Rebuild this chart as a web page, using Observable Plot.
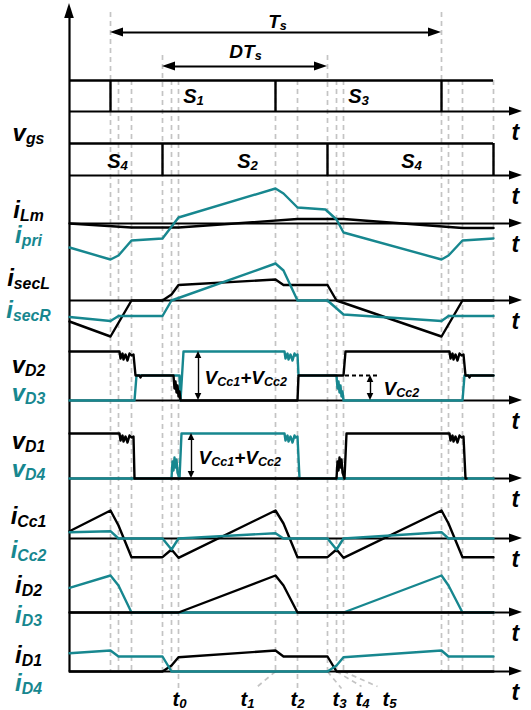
<!DOCTYPE html>
<html><head><meta charset="utf-8">
<script src="https://cdn.jsdelivr.net/npm/d3@7"></script>
<script src="https://cdn.jsdelivr.net/npm/@observablehq/plot@0.6"></script>
<style>body{margin:0;background:#fff;}</style>
</head><body><div id="chart"></div>
<script>
// ---------------- DATA (time in arbitrary units, origin at the vertical axis) ----------------
const instants = [41, 49, 62, 93, 102, 109, 206, 228, 258, 267, 274, 372, 379, 393, 424];
const s13Edges = [41, 206, 372];       // S1 on, S3 on, S1 on
const s24Edges = [93, 258, 424];       // S2 on, S4 on, end
const periodSpan = [41, 372];          // Ts
const dutySpan = [93, 258];            // DTs
const tEnd = 424;

// waveform samples: [time, amplitude]
const iLm   = [[0,0],[62,-4],[109,-4],[228,4.5],[274,4.5],[393,-4.5],[424,-4.5]];
const iPri  = [[0,-24],[41,-36],[49,-32],[62,-17],[93,-15],[109,6],[206,35],[214,30],[228,16],[256,14],[267,4],[274,-9],[372,-36],[379,-32],[393,-17],[424,-15]];
const iSecL = [[0,-21],[41,-36],[62,0],[93,0],[102,6],[109,15.5],[206,21],[214,15.5],[258,15.5],[267,0],[372,-36],[393,0],[424,0]];
const iSecR = [[0,-16.5],[41,-20.5],[49,-15.5],[93,-15.5],[102,0],[206,37],[214,30],[228,0],[258,0],[274,-14],[372,-20.5],[379,-15.5],[424,-15.5]];
const vD2 = [[0,49],[50,49],[51,42],[53,47],[54,41],[56,46],[58,40],[60,47],[62,45],[64,46],[66,25],[70,25],[71,23],[72,25],[104,25],[105,12],[106,19],[107,8],[108,15],[109,4],[110,9],[111,0],[228,0],[229,25],[274,25],[276,49],[380,49],[381,42],[383,47],[384,41],[386,46],[388,40],[390,47],[392,45],[394,46],[396,25],[399,25],[400,23],[401,25],[424,25]];
const vD3 = [[0,0],[65,0],[67,25],[110,25],[111,0],[114,49],[215,49],[216,42],[218,47],[219,41],[221,46],[223,40],[225,47],[226,45],[228,46],[229,25],[267,25],[268,12],[269,19],[270,8],[271,15],[272,4],[273,9],[274,0],[393,0],[395,25],[424,25]];
const vD1 = [[0,45],[50,45],[51,38],[53,43],[54,37],[56,42],[58,36],[60,43],[62,41],[64,42],[65,0],[267,0],[268,17],[269,8],[270,21],[271,11],[272,19],[273,6],[275,0],[277,45],[380,45],[381,38],[383,43],[384,37],[386,42],[388,36],[390,43],[392,41],[394,42],[396,0],[397,0]];
const vD4 = [[0,0],[102,0],[103,17],[104,8],[105,21],[106,11],[107,19],[108,6],[110,0],[112,45],[215,45],[216,38],[218,43],[219,37],[221,42],[223,36],[225,43],[226,41],[228,42],[230,0],[424,0]];
const iCc1 = [[0,7.3],[41,28],[49,13],[62,-18.7],[93,-18.7],[102,-11],[109,-19.3],[206,28],[214,15],[228,-18.7],[258,-18.7],[267,-11],[274,-19.3],[372,28],[379,15],[393,-18.7],[424,-18.7]];
const iCc2 = [[0,6.3],[41,7.3],[49,0],[93,0],[102,-11],[109,0],[206,5.3],[214,0],[258,0],[267,-11],[274,0],[372,6.3],[379,0],[424,0]];
const iD2 = [[0,0],[109,0],[206,37],[214,27],[228,0],[424,0]];
const iD3 = [[0,24.7],[41,37],[49,27],[62,0],[274,0],[372,37],[379,27],[393,0],[424,0]];
const iD1 = [[0,0],[93,0],[102,6],[109,14.3],[206,21],[214,15],[258,15],[267,0],[424,0]];
const iD4 = [[0,18.3],[41,21],[49,15],[93,15],[102,0],[258,0],[267,6],[274,14.3],[372,21],[379,15],[424,15]];

// texts
const leftLabels = ["v{gs}","i{Lm}","i{pri}","i{secL}","i{secR}","v{D2}","v{D3}","v{D1}","v{D4}","i{Cc1}","i{Cc2}","i{D2}","i{D3}","i{D1}","i{D4}"];
const gateRow1Labels = ["S{1}","S{3}"];
const gateRow2Labels = ["S{4}","S{2}","S{4}"];
const instantLabels = ["t{0}","t{1}","t{2}","t{3}","t{4}","t{5}"];
const annotationLabels = ["V{Cc1}+V{Cc2}","V{Cc1}+V{Cc2}","V{Cc2}"];

// ---------------- LAYOUT / STYLE ----------------
const TEAL = "#17878f";
const FONT = "'Liberation Sans', Arial, sans-serif";
const rows = [111,175,223,300,400,478,538,612,671];
const R = {g1:111,g2:175,lm:223,sec:300,v23:400,v14:478,cc:538,d23:612,d14:671};
const axisTip = 453;
const leftBase = [140,217,242,285,317,372,400,448,476,523,557,592,622,662,690];
const leftColor = [0,0,1,0,1,0,1,0,1,0,1,0,1,0,1].map(k => k ? TEAL : "black");

const wave = (data, row, color) => Plot.line(data, {x: d => d[0], y: d => row - d[1], stroke: color, strokeWidth: 2.4, strokeLinejoin: "round"});
const headRight = (tip, row, len=13, hw=4.5) => Plot.areaY([[tip-len,row-hw,row+hw],[tip,row,row]], {x:d=>d[0], y1:d=>d[1], y2:d=>d[2], fill:"black"});
const headLeft = (tip, row, len=13, hw=4.5) => Plot.areaY([[tip,row,row],[tip+len,row-hw,row+hw]], {x:d=>d[0], y1:d=>d[1], y2:d=>d[2], fill:"black"});
const headUp = (x, tip, len, hw) => Plot.areaX([[tip,x,x],[tip+len,x-hw,x+hw]], {y:d=>d[0], x1:d=>d[1], x2:d=>d[2], fill:"black"});
const headDown = (x, tip, len, hw) => Plot.areaX([[tip-len,x-hw,x+hw],[tip,x,x]], {y:d=>d[0], x1:d=>d[1], x2:d=>d[2], fill:"black"});
const txt = (data, opts) => Plot.text(data, {fontFamily: FONT, fontWeight: "bold", fontStyle: "italic", lineAnchor: "bottom", ...opts});

const dashTop = t => (t === periodSpan[0] || t === periodSpan[1]) ? 12 : (t === dutySpan[0] || t === dutySpan[1]) ? 55 : 80;
const dashBottom = t => (t === 109 || t === 228) ? 689 : 671;

const marks = [
  // dashed instants
  Plot.ruleX(instants, {x: d => d, y1: dashTop, y2: dashBottom, stroke: "#c4c4c4", strokeWidth: 1.7, strokeDasharray: "5,4"}),
  Plot.link([[206,188,686],[258,272,688],[267,292,686],[274,308,686]], {x1: d=>d[0], y1: 671, x2: d=>d[1], y2: d=>d[2], stroke: "#c4c4c4", strokeWidth: 1.7, strokeDasharray: "5,4"}),
  // vertical axis
  Plot.ruleX([0], {x: d=>d, y1: 16, y2: 671, stroke: "black", strokeWidth: 2.2}),
  headUp(0, 3, 15, 4.8),
  // horizontal axes
  Plot.ruleY(rows, {y: d=>d, x1: 0, x2: axisTip-10, stroke: "black", strokeWidth: 2.2}),
  ...rows.map(r => headRight(axisTip, r)),
  // Ts, DTs arrows
  Plot.ruleY([32], {y: d=>d, x1: periodSpan[0]+6, x2: periodSpan[1]-6, stroke: "black", strokeWidth: 2}),
  headLeft(periodSpan[0], 32), headRight(periodSpan[1], 32),
  Plot.ruleY([66], {y: d=>d, x1: dutySpan[0]+6, x2: dutySpan[1]-6, stroke: "black", strokeWidth: 2}),
  headLeft(dutySpan[0], 66), headRight(dutySpan[1], 66),
  // gate boxes
  Plot.ruleY([80], {y: d=>d, x1: 0, x2: tEnd, stroke: "black", strokeWidth: 2.4}),
  Plot.ruleX(s13Edges, {x: d=>d, y1: 80, y2: 111, stroke: "black", strokeWidth: 2.4}),
  Plot.ruleY([143], {y: d=>d, x1: 0, x2: tEnd, stroke: "black", strokeWidth: 2.4}),
  Plot.ruleX(s24Edges, {x: d=>d, y1: 143, y2: 175, stroke: "black", strokeWidth: 2.4}),
  // waveforms
  wave(iLm, R.lm, "black"), wave(iPri, R.lm, TEAL),
  wave(iSecL, R.sec, "black"), wave(iSecR, R.sec, TEAL),
  wave(vD3, R.v23, TEAL), wave(vD2, R.v23, "black"),
  wave(vD4, R.v14, TEAL), wave(vD1, R.v14, "black"),
  wave(iCc1, R.cc, "black"), wave(iCc2, R.cc, TEAL),
  wave(iD3, R.d23, TEAL), wave(iD2, R.d23, "black"),
  wave(iD1, R.d14, "black"), wave(iD4, R.d14, TEAL),
  // annotations
  Plot.ruleX([129], {x:d=>d, y1: 356, y2: 395, stroke: "black", strokeWidth: 1.4}),
  headUp(129, 351, 7, 3.3), headDown(129, 400, 7, 3.3),
  Plot.ruleX([122], {x:d=>d, y1: 438, y2: 473, stroke: "black", strokeWidth: 1.4}),
  headUp(122, 433, 7, 3.3), headDown(122, 478, 7, 3.3),
  Plot.ruleY([375], {y:d=>d, x1: 276, x2: 309, stroke: "black", strokeWidth: 2, strokeDasharray: "4,3"}),
  Plot.ruleX([301], {x:d=>d, y1: 380, y2: 395, stroke: "black", strokeWidth: 1.4}),
  headUp(301, 375, 7, 3.3), headDown(301, 400, 7, 3.3),
  // texts
  txt(leftLabels, {text: d=>d, x: -41, y: (d,i) => leftBase[i], fill: (d,i) => leftColor[i], fontSize: 24, textAnchor: "middle"}),
  txt(rows, {text: () => "t", x: 442, y: d => d + 28, fontSize: 23, textAnchor: "start"}),
  txt(["T{s}"], {text: d=>d, x: 208, y: 27, fontSize: 19, textAnchor: "middle"}),
  txt(["DT{s}"], {text: d=>d, x: 176, y: 57, fontSize: 19, textAnchor: "middle"}),
  txt(gateRow1Labels, {text: d=>d, x: (d,i) => [124,289][i], y: 102, fontSize: 20, textAnchor: "middle"}),
  txt(gateRow2Labels, {text: d=>d, x: (d,i) => [48,178,342][i], y: 167, fontSize: 20, textAnchor: "middle"}),
  txt(instantLabels, {text: d=>d, x: (d,i) => [103,171,221,263,286,313][i], y: 705, fontSize: 20, textAnchor: "start"}),
  txt(annotationLabels, {text: d=>d, x: (d,i) => [135,129,314][i], y: (d,i) => [383,463,394][i], fontSize: 19, textAnchor: "start"})
];

const svg = Plot.plot({
  width: 531, height: 710, margin: 0,
  style: {background: "white"},
  x: {domain: [0, 460], range: [69, 529], axis: null},
  y: {domain: [0, 710], range: [0, 710], axis: null},
  color: {type: "identity"},
  marks
});

// subscripts: "a{b}" -> a with subscript b
const NS = "http://www.w3.org/2000/svg";
for (const el of svg.querySelectorAll("text")) {
  const s = el.textContent;
  if (!s.includes("{")) continue;
  el.textContent = "";
  let shifted = false;
  for (const p of s.split(/(\{[^}]*\})/).filter(q => q.length)) {
    const ts = document.createElementNS(NS, "tspan");
    if (p[0] === "{") {
      ts.textContent = p.slice(1, -1);
      ts.setAttribute("font-size", "0.66em");
      ts.setAttribute("dy", "0.22em");
      shifted = true;
    } else {
      ts.textContent = p;
      if (shifted) { ts.setAttribute("dy", "-0.145em"); shifted = false; }
    }
    el.appendChild(ts);
  }
}
document.getElementById("chart").appendChild(svg);
</script>
</body></html>
